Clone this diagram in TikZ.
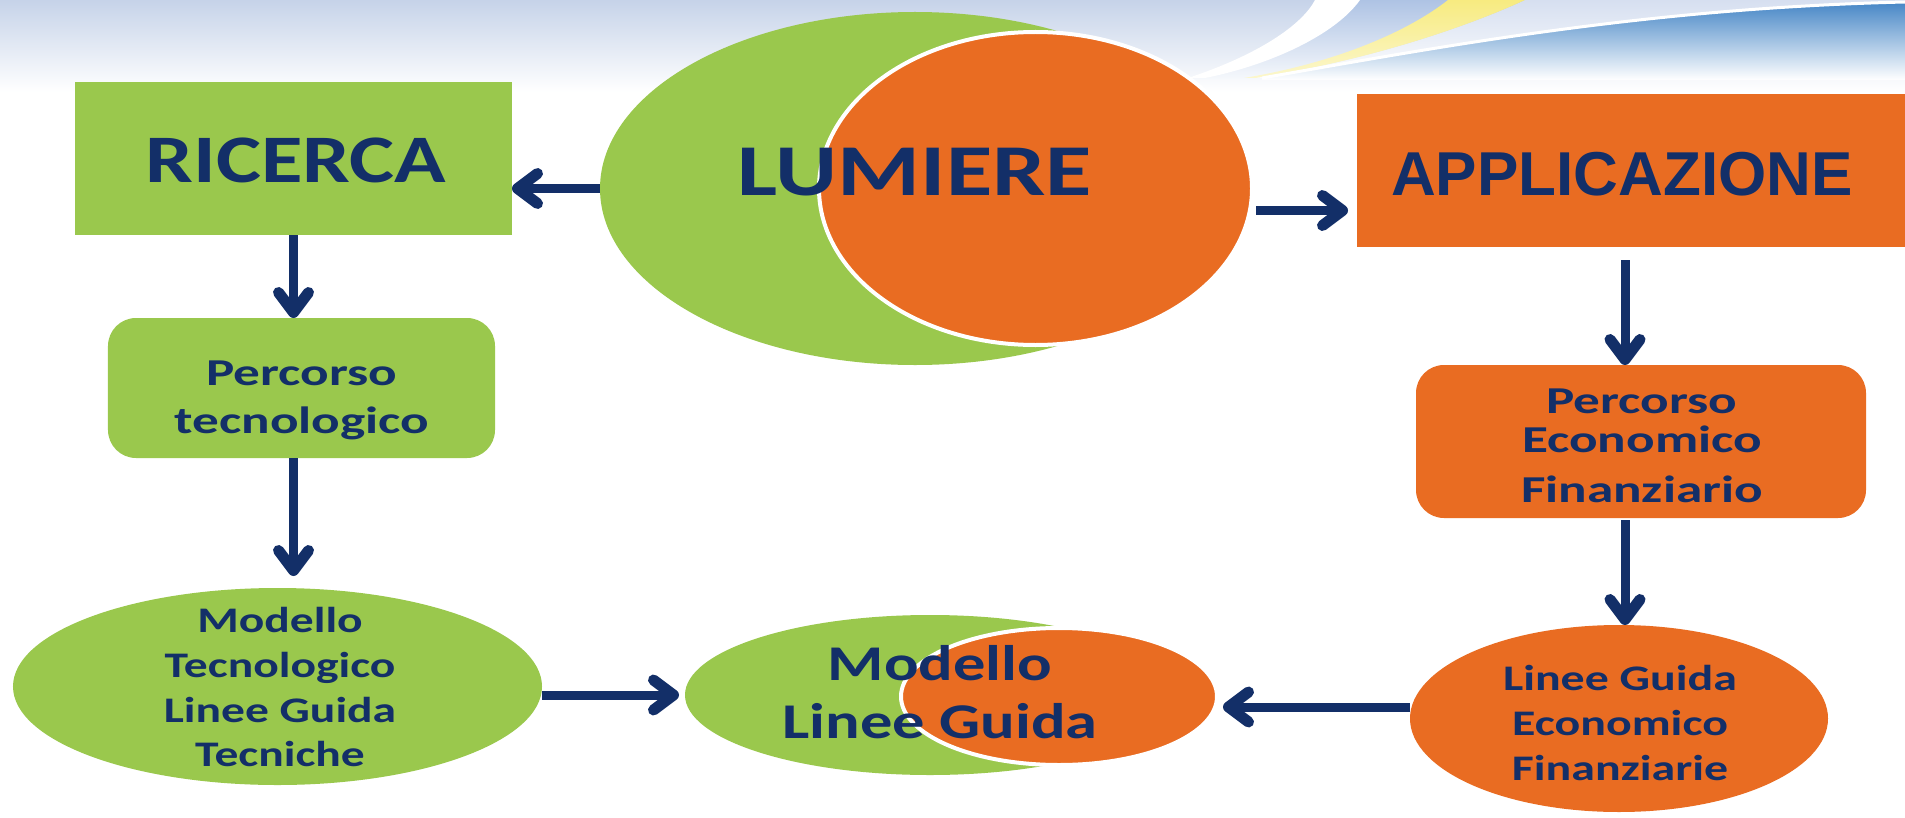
\documentclass[tikz,border=0pt]{standalone}
\usepackage{fontspec}
\usepackage{graphicx}
\usetikzlibrary{arrows.meta,shapes.geometric}
\newfontfamily\carl{Carlito}
\newfontfamily\arl{Liberation Sans}
\definecolor{lgreen}{HTML}{9AC84D}
\definecolor{lorange}{HTML}{E96C22}
\definecolor{navy}{HTML}{132F68}
\definecolor{bantop}{HTML}{C6D3E9}
\definecolor{swlight}{HTML}{AEC3E4}
\definecolor{swpale}{HTML}{D6DFF0}
\definecolor{swyellow}{HTML}{F7EB80}
\definecolor{swblue}{HTML}{4686C6}
\definecolor{swmid}{HTML}{8CB0DC}
\newcommand{\stx}[2]{\scalebox{#1}[1]{\begin{tabular}{@{}c@{}}#2\end{tabular}}}
\tikzset{
  boxshape/.style={rectangle, inner sep=0pt, outer sep=0pt},
  ovalshape/.style={ellipse, inner sep=0pt, outer sep=0pt},
  txtn/.style={inner sep=0pt, outer sep=0pt, text=navy},
  arr/.style={draw=navy, line width=9bp, -{Straight Barb[length=20bp 0,width=30bp 0,line width=11bp,round]}},
}
\begin{document}
\begin{tikzpicture}[x=1bp,y=-1bp]
\useasboundingbox (0,0) rectangle (1905,818);
\fill[white] (0,0) rectangle (1905,818);
% banner
\shade[top color=bantop, bottom color=white] (0,0) rectangle (1905,92);
% swoosh
\shade[top color=swlight, bottom color=white!90!swlight] (1200,78) .. controls (1270,60) and (1320,30) .. (1340,0) -- (1905,0) -- (1905,80) -- cycle;
\shade[top color=swpale, bottom color=white] (1255,78) .. controls (1360,62) and (1460,30) .. (1525,0) -- (1905,0) -- (1905,80) -- cycle;
\shade[top color=swyellow, bottom color=swyellow!40!white] (1244,78) .. controls (1340,62) and (1410,30) .. (1448,0) -- (1525,0) .. controls (1460,30) and (1360,62) .. (1255,78) -- cycle;
\shade[top color=swblue, middle color=swmid, bottom color=white] (1262,78) .. controls (1450,45) and (1650,8) .. (1905,2) -- (1905,80) -- (1262,80) -- cycle;
\draw[white, line width=3bp] (1262,78) .. controls (1450,45) and (1650,8) .. (1905,2);
\fill[white] (1188,78) .. controls (1258,55) and (1302,25) .. (1315,0) -- (1360,0) .. controls (1335,35) and (1270,65) .. (1205,78) -- cycle;

% shapes
\node[boxshape, fill=lgreen, minimum width=437bp, minimum height=153bp] (ric) at (293.5,158.5) {};
\node[ovalshape, fill=lgreen, minimum width=630bp, minimum height=353bp] (lumG) at (915,188.5) {};
\node[ovalshape, fill=lorange, draw=white, line width=4bp, minimum width=433bp, minimum height=313bp] (lumO) at (1035.5,188.5) {};
\node[boxshape, fill=lorange, minimum width=560bp, minimum height=153bp] (app) at (1637,170.5) {};
\node[boxshape, rounded corners=28bp, fill=lgreen, minimum width=387bp, minimum height=140bp] (pt) at (301.5,388) {};
\node[boxshape, rounded corners=28bp, fill=lorange, minimum width=450bp, minimum height=153bp] (pe) at (1641,441.5) {};
\node[ovalshape, fill=lgreen, minimum width=529bp, minimum height=197bp] (mt) at (277.5,686.5) {};
\node[ovalshape, fill=lgreen, minimum width=490bp, minimum height=160bp] (midG) at (930,695) {};
\node[ovalshape, fill=lorange, draw=white, line width=4bp, minimum width=316bp, minimum height=137bp] (midO) at (1059,696.5) {};
\node[ovalshape, fill=lorange, minimum width=418bp, minimum height=187bp] (lge) at (1619,718.5) {};

% texts
\node[txtn, font=\carl\bfseries\fontsize{68bp}{68bp}\selectfont] (ricT) at (296,168.4) {\stx{1.25}{RICERCA}};
\node[txtn, font=\carl\bfseries\fontsize{73bp}{73bp}\selectfont] (lumT) at (915,180.4) {\stx{1.3}{LUMIERE}};
\node[txtn, font=\arl\bfseries\fontsize{62bp}{62bp}\selectfont] (appT) at (1622,182.6) {\stx{1.0}{APPLICAZIONE}};
\node[txtn, font=\carl\bfseries\fontsize{38bp}{48bp}\selectfont] (ptT) at (302,399.4) {\stx{1.4}{Percorso\\tecnologico}};
\node[txtn, font=\carl\bfseries\fontsize{38bp}{39bp}\selectfont] (peT) at (1642,449.7) {\stx{1.4}{Percorso\\Economico\\[11bp]Finanziario}};
\node[txtn, font=\carl\bfseries\fontsize{36bp}{44.7bp}\selectfont] (mtT) at (280,691) {\stx{1.32}{Modello\\Tecnologico\\Linee Guida\\Tecniche}};
\node[txtn, font=\carl\bfseries\fontsize{50bp}{58bp}\selectfont] (midT) at (940,697.4) {\stx{1.29}{Modello\\Linee Guida}};
\node[txtn, font=\carl\bfseries\fontsize{36bp}{45bp}\selectfont] (lgeT) at (1620,726) {\stx{1.33}{Linee Guida\\Economico\\Finanziarie}};

% arrows
\draw[arr] (lumG.west) -- (lumG.west -| ric.east);
\draw[arr, shorten <=4bp, shorten >=9bp] ([yshift=-22bp]lumO.east) -- ([yshift=-22bp]lumO.east -| app.west);
\draw[arr] (ric.south) -- (ric.south |- pt.north);
\draw[arr, shorten >=12bp] (ric.south |- pt.south) -- (ric.south |- mt.north);
\draw[arr, shorten <=13bp] ([xshift=-12bp]app.south) -- ([xshift=-12bp]app.south |- pe.north);
\draw[arr, shorten <=2bp] ([xshift=-16bp]pe.south) -- ([xshift=-16bp]pe.south |- lge.north);
\draw[arr, shorten >=6bp] ([yshift=-8.5bp]mt.east) -- ([yshift=-8.5bp]mt.east -| midG.west);
\draw[arr, shorten >=6bp] ([yshift=11.5bp]lge.west) -- ([yshift=11.5bp]lge.west -| midO.east);
\end{tikzpicture}
\end{document}
